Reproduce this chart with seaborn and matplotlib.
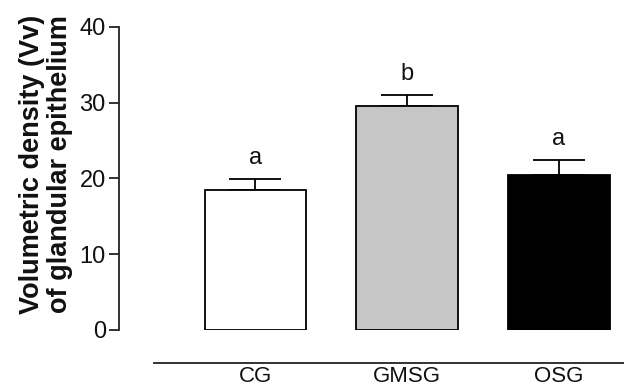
import matplotlib
matplotlib.use("Agg")
import matplotlib.pyplot as plt
import seaborn as sns
import pandas as pd
import numpy as np

groups = ["CG", "GMSG", "OSG"]
means = [18.5, 29.6, 20.4]
errors = [1.45, 1.45, 2.0]
letters = ["a", "b", "a"]
colors = ["#ffffff", "#c6c6c6", "#000000"]
yticks = [0, 10, 20, 30, 40]

sns.set_theme(style="ticks")
plt.rcParams["font.family"] = ["Liberation Sans", "DejaVu Sans"]

df = pd.DataFrame({"group": groups, "value": means})

fig = plt.figure(figsize=(6.24, 3.89), dpi=100)
ax = fig.add_axes([119/624, 59/389, 1 - 119/624, (330-27)/389])

sns.barplot(data=df, x="group", y="value", hue="group", palette=colors,
            edgecolor="black", linewidth=1.3, width=0.67, legend=False, ax=ax,
            errorbar=None, zorder=3)

x = np.arange(len(groups))
ax.errorbar(x, means, yerr=[np.zeros(len(errors)), errors], fmt="none",
            ecolor="black", elinewidth=1.3, capsize=18.5, capthick=1.3, zorder=2)

for xi, m, e, lab in zip(x, means, errors, letters):
    ax.text(xi, m + e + 1.3, lab, ha="center", va="bottom", fontsize=17, color="#111111")

ax.set_ylim(0, 40)
ax.set_xlim(-0.9, 2.43)
ax.set_yticks(yticks)
ax.set_yticklabels([str(t) for t in yticks], fontsize=17, color="#111111")
ax.tick_params(axis="y", length=7, width=1.3, color="#222222", pad=2.5)
ax.tick_params(axis="x", length=0, pad=2, labelsize=16, labelcolor="#111111")

ax.spines["top"].set_visible(False)
ax.spines["right"].set_visible(False)
ax.spines["left"].set_bounds(0, 40)
ax.spines["left"].set_linewidth(1.3)
ax.spines["left"].set_color("#222222")
ax.spines["bottom"].set_position(("outward", 24))
ax.spines["bottom"].set_bounds(-0.67, 2.43)
ax.spines["bottom"].set_linewidth(1.3)
ax.spines["bottom"].set_color("#222222")

ax.set_xlabel("")
ax.set_ylabel("Volumetric density (Vv)\nof glandular epithelium", fontsize=19.5,
              fontweight="bold", color="#111111", linespacing=1.1)
ax.yaxis.set_label_coords(-0.091, 0.548)

fig.savefig("out.png", dpi=100)
